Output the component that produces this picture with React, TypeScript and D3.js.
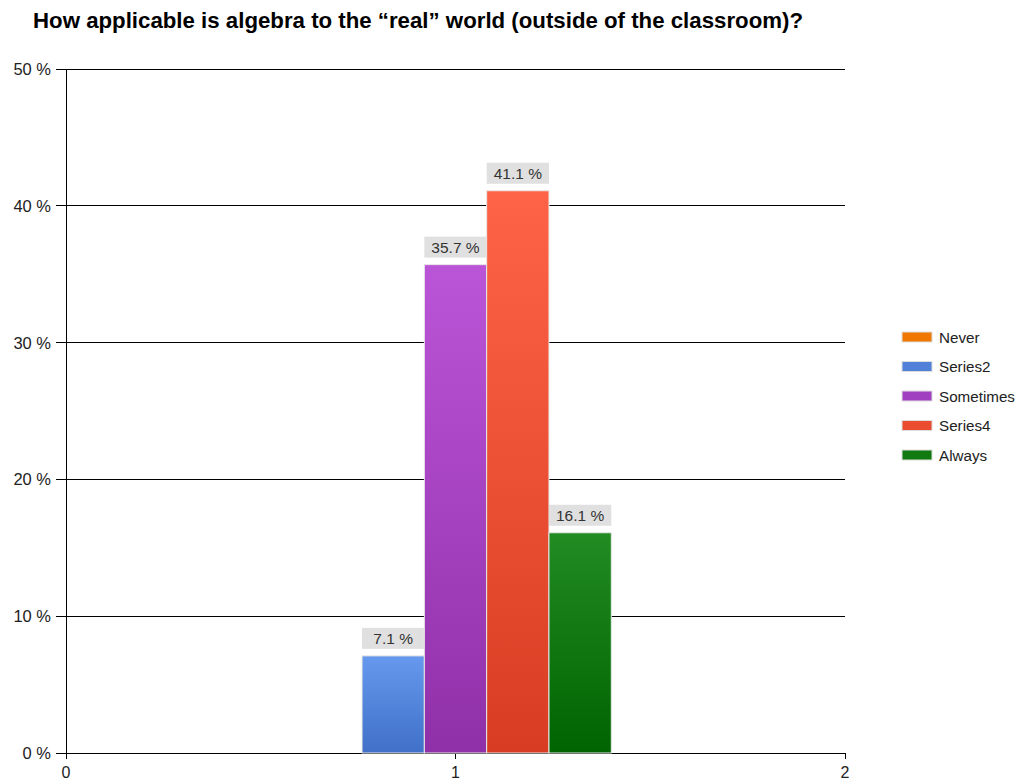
import React from "react";
import * as d3 from "d3";

const title = "How applicable is algebra to the \u201creal\u201d world (outside of the classroom)?";
const seriesNames = ["Never", "Series2", "Sometimes", "Series4", "Always"];
const seriesValues = [0, 7.1, 35.7, 41.1, 16.1];
const seriesTop = ["#ff8c1a", "#6699ee", "#bb55d8", "#ff6347", "#228b22"];
const seriesBottom = ["#e06800", "#4070c8", "#9030a8", "#d83c22", "#006400"];
const legendColors = ["#f07800", "#5080d8", "#a040c0", "#ea4c30", "#107a10"];
const yTicks = [0, 10, 20, 30, 40, 50];
const xTicks = [0, 1, 2];
const categoryX = 1;

export default function App() {
  const W = 1016, H = 780;
  const left = 66, right = 845, top = 69, bottom = 753;
  const x = d3.scaleLinear().domain([0, 2]).range([left, right]);
  const y = d3.scaleLinear().domain([0, 50]).range([bottom, top]);
  const groupWidth = (x(1) - x(0)) * 0.8;
  const band = d3.scaleBand<number>().domain(d3.range(seriesNames.length)).range([x(categoryX) - groupWidth / 2, x(categoryX) + groupWidth / 2]).padding(0);
  const font = "'Liberation Sans', Arial, sans-serif";

  return (
    <svg width={W} height={H} style={{ position: "absolute", left: 0, top: 0, background: "#fff" }} fontFamily={font}>
      <defs>
        {seriesNames.map((s, i) => (
          <linearGradient key={s} id={`g${i}`} x1="0" y1="0" x2="0" y2="1">
            <stop offset="0%" stopColor={seriesTop[i]} />
            <stop offset="100%" stopColor={seriesBottom[i]} />
          </linearGradient>
        ))}
      </defs>
      <text x={33} y={28} fontSize={22} fontWeight="bold" fill="#000" textLength={770} lengthAdjust="spacingAndGlyphs">{title}</text>
      {yTicks.map(t => (
        <g key={t}>
          <line x1={left} x2={right} y1={y(t)} y2={y(t)} stroke="#000" strokeWidth={1} shapeRendering="crispEdges" />
          <line x1={left - 10} x2={left} y1={y(t)} y2={y(t)} stroke="#000" strokeWidth={1} shapeRendering="crispEdges" />
          <text x={51} y={y(t) + 6} fontSize={16.5} textAnchor="end" fill="#222">{`${t} %`}</text>
        </g>
      ))}
      <line x1={left} x2={left} y1={top} y2={bottom} stroke="#000" strokeWidth={1} shapeRendering="crispEdges" />
      {xTicks.map(t => (
        <g key={t}>
          <line x1={x(t)} x2={x(t)} y1={bottom} y2={bottom + 6} stroke="#000" strokeWidth={1} shapeRendering="crispEdges" />
          <text x={x(t)} y={778} fontSize={16} textAnchor="middle" fill="#222">{t}</text>
        </g>
      ))}
      {seriesValues.map((v, i) => {
        if (v <= 0) return null;
        const bx = band(i)!;
        const bw = band.bandwidth();
        const by = y(v);
        return (
          <g key={i}>
            <rect x={bx} y={by} width={bw} height={bottom - by} fill={`url(#g${i})`} stroke="#e8e8e8" strokeWidth={1} />
            <rect x={bx} y={by - 28} width={bw} height={21} fill="#e0e0e0" />
            <text x={bx + bw / 2} y={by - 12} fontSize={15.5} textAnchor="middle" fill="#333">{`${v} %`}</text>
          </g>
        );
      })}
      {seriesNames.map((s, i) => (
        <g key={s}>
          <rect x={902} y={332 + i * 29.5} width={30} height={10} fill={legendColors[i]} stroke="#ddd" strokeWidth={1} />
          <text x={939} y={342.5 + i * 29.5} fontSize={15.2} fill="#222">{s}</text>
        </g>
      ))}
    </svg>
  );
}
